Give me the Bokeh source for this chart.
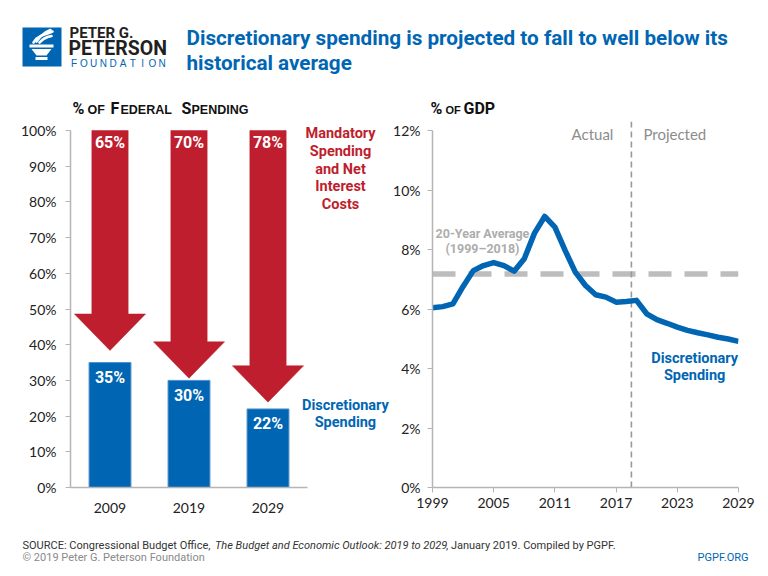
from bokeh.plotting import figure
from bokeh.models import Range1d, FixedTicker, Span, ColumnDataSource
from bokeh.layouts import column, row
from bokeh.embed import file_html
from bokeh.resources import INLINE
from bokeh.core.properties import value
import numpy as np

# ---------------- data ----------------
fed_years = ["2009", "2019", "2029"]
mandatory_pct = [65, 70, 78]
discretionary_pct = [35, 30, 22]
arrow_tip_pct = [38.4, 30.6, 23.9]
left_ticks = [0, 10, 20, 30, 40, 50, 60, 70, 80, 90, 100]

gdp_years = list(range(1999, 2030))
disc_gdp = [6.04, 6.08, 6.17, 6.76, 7.29, 7.46, 7.56, 7.46, 7.27, 7.69,
            8.55, 9.11, 8.75, 7.97, 7.24, 6.79, 6.48, 6.40, 6.23, 6.25,
            6.29, 5.84, 5.64, 5.52, 5.39, 5.28, 5.20, 5.13, 5.05, 4.99, 4.91]
avg_years = 20
avg_20yr = float(np.mean(disc_gdp[:avg_years]))
split_year = 2018.5
right_ticks = [0, 2, 4, 6, 8, 10, 12]
gdp_year_ticks = [1999, 2005, 2011, 2017, 2023, 2029]

# ---------------- styles ----------------
RED = "#BE1E2D"
BLUE = "#0066B3"
AXIS = "#B5B5B5"
TXT = "#222222"
COND = "Roboto"
SANS = "Liberation Sans"
TICKF = "Lato"

FRAME_H = 366          # plot frame height in px (axis part is 357 px)
AXIS_H = 357


def blank(fig):
    fig.axis.visible = False
    fig.xgrid.visible = False
    fig.ygrid.visible = False
    fig.outline_line_color = None
    fig.background_fill_color = "white"
    fig.border_fill_color = "white"


def txt(fig, x, y, s, font=COND, size=12, style="normal", color=TXT, align="left", baseline="middle"):
    fig.text(x=[x], y=[y], text=[s], text_font=value(font), text_font_size=f"{size}px",
             text_font_style=style, text_color=color, text_align=align, text_baseline=baseline)


# ---------------- header ----------------
header = figure(width=768, height=118, x_range=Range1d(0, 768), y_range=Range1d(118, 0),
                output_backend="svg", toolbar_location=None, min_border=0)
blank(header)
# logo
header.quad(left=[22], right=[61], top=[27], bottom=[66], color=BLUE, line_color=None)
header.quad(left=[29], right=[53], top=[44], bottom=[47], color="white", line_color=None)
header.patch([31, 51, 46, 36], [48.5, 48.5, 55, 55], color="white", line_color=None)
header.quad(left=[35], right=[47], top=[56.5], bottom=[59.5], color="white", line_color=None)
header.multi_line(xs=[[33, 36, 41, 47, 52], [36, 40, 45, 50], [39, 43, 47, 51]],
                  ys=[[42, 38, 35, 33, 31], [41, 36, 32, 29.5], [42, 38.5, 36.5, 35.5]],
                  line_color="white", line_width=2.6, line_cap="round")
txt(header, 69, 32, "PETER G.", font=COND, size=15, style="bold", color="#231F20")
txt(header, 68, 48, "PETERSON", font=COND, size=19.5, style="bold", color="#231F20")
for i, ch in enumerate("FOUNDATION"):
    txt(header, 73.5 + i * 9.8, 63, ch, font=SANS, size=10, color=BLUE, align="center")
# title
txt(header, 186, 37, "Discretionary spending is projected to fall to well below its",
    font=COND, size=20.7, style="bold", color=BLUE)
txt(header, 186, 62, "historical average", font=COND, size=20.7, style="bold", color=BLUE)
# panel titles (small caps)
for x, s, big, sz in [(72, "%", True, 16), (87, "OF", False, 12.5), (110, "F", True, 16),
                      (120, "EDERAL", False, 12.5), (181, "S", True, 16), (191, "PENDING", False, 12.5),
                      (430, "%", True, 16), (445, "OF", False, 11), (463, "GDP", True, 16)]:
    if big:
        txt(header, x, 107.5, s, font=COND, size=sz, style="bold", color="#111111")
    else:
        txt(header, x, 109, s, font=SANS, size=sz, style="bold", color="#111111")

# ---------------- left chart ----------------
X_END = -0.5 + 320 / 79.0
left = figure(width=390, height=407, x_range=Range1d(-0.5, X_END),
              y_range=Range1d(0, 100 * FRAME_H / AXIS_H),
              output_backend="svg", toolbar_location=None,
              min_border_left=70, min_border_right=0, min_border_top=3, min_border_bottom=38)
left.xgrid.visible = False
left.ygrid.visible = False
left.outline_line_color = None
cats = list(range(len(fed_years)))

bars = ColumnDataSource(dict(x=cats, top=discretionary_pct,
                             lab=[f"{v}%" for v in discretionary_pct]))
left.vbar(x="x", top="top", width=0.53, source=bars, fill_color=BLUE, line_color="#4F8FCC", line_width=1)
left.text(x="x", y="top", text="lab", source=bars, text_align="center", text_baseline="middle",
          y_offset=15, text_color="white", text_font=value(COND), text_font_size="16px",
          text_font_style="bold")

shaft, head, head_h = 0.23, 0.45, 10.2
axs, ays = [], []
for i, tip in zip(cats, arrow_tip_pct):
    base = tip + head_h
    axs.append([i - shaft, i + shaft, i + shaft, i + head, i, i - head, i - shaft])
    ays.append([100, 100, base, base, tip, base, base])
left.patches(axs, ays, fill_color=RED, line_color=RED, line_width=0.5)
left.text(x=cats, y=[100] * 3, text=[f"{v}%" for v in mandatory_pct], text_align="center",
          text_baseline="middle", y_offset=12, text_color="white", text_font=value(COND),
          text_font_size="16px", text_font_style="bold")

left.text(x=[2.918] * 5, y=[99.2, 94.1, 89.1, 84.3, 79.3],
          text=["Mandatory", "Spending", "and Net", "Interest", "Costs"],
          text_align="center", text_baseline="middle", text_color=RED,
          text_font=value(COND), text_font_size="14.5px", text_font_style="bold")
left.text(x=[2.98] * 2, y=[23.1, 18.3], text=["Discretionary", "Spending"],
          text_align="center", text_baseline="middle", text_color=BLUE,
          text_font=value(COND), text_font_size="14.5px", text_font_style="bold")

left.yaxis.ticker = FixedTicker(ticks=left_ticks)
left.yaxis.major_label_overrides = {t: f"{t}%" for t in left_ticks}
left.yaxis.bounds = (0, 100)
left.xaxis.ticker = FixedTicker(ticks=cats)
left.xaxis.major_label_overrides = {i: y for i, y in zip(cats, fed_years)}
left.xaxis.bounds = (-0.5, len(cats) - 0.5)
left.xaxis.major_tick_line_color = None
left.yaxis.major_tick_out = 5
left.yaxis.major_tick_in = 0
left.yaxis.major_tick_line_color = AXIS
left.yaxis.major_label_standoff = 9
left.xaxis.major_label_standoff = 9
for ax in (left.xaxis, left.yaxis):
    ax.axis_line_color = AXIS
    ax.axis_line_width = 1.5
    ax.minor_tick_line_color = None
    ax.major_label_text_font = TICKF
    ax.major_label_text_font_size = "14px"
    ax.major_label_text_color = TXT

# ---------------- right chart ----------------
right = figure(width=378, height=407, x_range=Range1d(1999, 2029),
               y_range=Range1d(0, 12 * FRAME_H / AXIS_H),
               output_backend="svg", toolbar_location=None,
               min_border_left=40, min_border_right=30, min_border_top=3, min_border_bottom=38)
right.xgrid.visible = False
right.ygrid.visible = False
right.outline_line_color = None

right.add_layout(Span(location=avg_20yr, dimension="width", line_color="#BDBDBD", line_width=5.5,
                      line_dash="23 13", level="underlay"))
right.add_layout(Span(location=split_year, dimension="height", line_color="#999999", line_width=1.6,
                      line_dash="6 4", level="underlay"))
right.line(gdp_years, disc_gdp, line_color=BLUE, line_width=5.5, line_join="round")

right.text(x=[split_year], y=[12], text=["Actual"], text_align="right", text_baseline="middle",
           x_offset=-18, y_offset=3, text_color="#8C8C8C", text_font=value(TICKF), text_font_size="15px")
right.text(x=[split_year], y=[12], text=["Projected"], text_align="left", text_baseline="middle",
           x_offset=12, y_offset=3, text_color="#8C8C8C", text_font=value(TICKF), text_font_size="15px")
right.text(x=[2003.9, 2003.9], y=[8.54, 8.03], text=["20-Year Average", "(1999\u20132018)"],
           text_align="center", text_baseline="middle", text_color="#ADADAD",
           text_font=value(COND), text_font_size="12.5px", text_font_style="bold")
right.text(x=[2024.7, 2024.7], y=[4.35, 3.78], text=["Discretionary", "Spending"],
           text_align="center", text_baseline="middle", text_color=BLUE,
           text_font=value(COND), text_font_size="14.5px", text_font_style="bold")

right.yaxis.ticker = FixedTicker(ticks=right_ticks)
right.yaxis.major_label_overrides = {t: f"{t}%" for t in right_ticks}
right.yaxis.bounds = (0, 12)
right.xaxis.ticker = FixedTicker(ticks=gdp_year_ticks)
for ax in (right.xaxis, right.yaxis):
    ax.minor_tick_line_color = None
    ax.axis_line_color = AXIS
    ax.axis_line_width = 1.5
    ax.major_tick_line_color = AXIS
    ax.major_tick_out = 5
    ax.major_tick_in = 0
    ax.major_label_text_font = TICKF
    ax.major_label_text_font_size = "14px"
    ax.major_label_text_color = TXT
right.yaxis.major_label_standoff = 7
right.xaxis.major_label_standoff = 5

# ---------------- footer ----------------
footer = figure(width=768, height=51, x_range=Range1d(0, 768), y_range=Range1d(51 + 525, 525),
                output_backend="svg", toolbar_location=None, min_border=0)
blank(footer)
txt(footer, 22, 545, "SOURCE: Congressional Budget Office,", size=11, color="#333333")
txt(footer, 214.5, 545, "The Budget and Economic Outlook: 2019 to 2029", size=11, style="italic", color="#333333")
txt(footer, 445.5, 545, ", January 2019. Compiled by PGPF.", size=11, color="#333333")
txt(footer, 22, 557, "\u00a9 2019 Peter G. Peterson Foundation", size=11, color="#8A8A8A")
txt(footer, 748, 557, "PGPF.ORG", size=11, color=BLUE, align="right")

p = column(header, row(left, right), footer)
open("out.html", "w").write(file_html(p, INLINE))
